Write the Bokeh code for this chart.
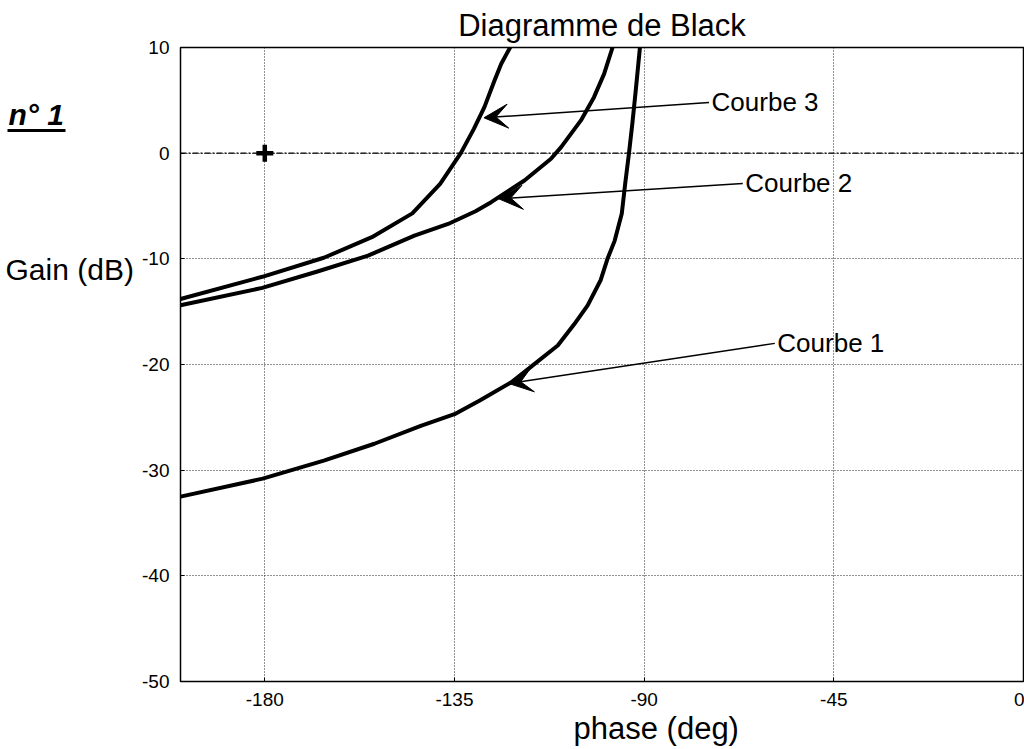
from bokeh.plotting import figure
from bokeh.layouts import row
from bokeh.models import (Range1d, FixedTicker, Label, Arrow, VeeHead, Span, Title,
                          PrintfTickFormatter)
from bokeh.core.properties import value
from bokeh.embed import file_html
from bokeh.resources import INLINE

# ---- data (phase in deg, gain in dB) ----
phase1 = [-200, -180.5, -166, -154, -143, -135, -129, -121.6, -116.8, -110.5,
          -106.6, -103.4, -100.3, -98.7, -97, -95.3, -94.5, -93.6, -92.8, -92, -91]
gain1 = [-32.5, -30.8, -29.1, -27.5, -25.8, -24.7, -23.4, -21.7, -20.2, -18.2,
         -16.2, -14.4, -12.0, -10.0, -8.3, -5.7, -2.9, 0, 2.8, 5.9, 10]

phase2 = [-200, -180.6, -167.5, -155.5, -144.5, -136.5, -130, -126.3, -118.4,
          -112.1, -109.7, -105, -101.9, -99.5, -97.5]
gain2 = [-14.4, -12.75, -11.2, -9.7, -7.8, -6.7, -5.5, -4.64, -2.59,
         -0.53, 0.57, 3.1, 5.3, 7.5, 10]

phase3 = [-200, -180.6, -166, -154.6, -145, -138.4, -133.5, -130.4, -127.9,
          -125.5, -123.9, -121.8]
gain3 = [-13.8, -11.7, -9.9, -7.95, -5.7, -2.9, 0, 2.3, 4.36, 6.88, 8.47, 10]

critical_phase = [-180]
critical_gain = [0]

x_ticks = [-180, -135, -90, -45, 0]
y_ticks = [-50, -40, -30, -20, -10, 0, 10]

curve_names = ["Courbe 1", "Courbe 2", "Courbe 3"]

FONT = "Liberation Sans"
H = 747
LW = 139
TOP = 47
BOTTOM = 681

# ---------------- main chart ----------------
p = figure(width=1024 - LW, height=H, output_backend="svg", toolbar_location=None,
           x_range=Range1d(-200, 0), y_range=Range1d(-50, 10),
           min_border_left=40, min_border_right=1, min_border_top=TOP,
           min_border_bottom=H - BOTTOM)

p.title = Title(text="Diagramme de Black", align="center", text_font=FONT,
                text_font_size="31px", text_font_style="normal",
                text_color="black", standoff=9)
p.add_layout(Title(text="phase (deg)", align="left", offset=393, text_font=FONT,
                   text_font_size="31px", text_font_style="normal",
                   text_color="black", standoff=0), "below")

p.background_fill_color = "white"
p.border_fill_color = "white"
p.outline_line_color = "black"
p.outline_line_width = 1.5

for ax in (p.xaxis, p.yaxis):
    ax.major_label_text_font = FONT
    ax.major_label_text_font_size = "19px"
    ax.major_label_text_color = "black"
    ax.axis_line_color = "black"
    ax.major_tick_line_color = "black"
    ax.major_tick_out = 0
    ax.major_tick_in = 4
    ax.minor_tick_line_color = None
    ax.formatter = PrintfTickFormatter(format="%d")
p.xaxis.ticker = FixedTicker(ticks=x_ticks)
p.yaxis.ticker = FixedTicker(ticks=y_ticks)
p.xaxis.major_label_standoff = 11
p.yaxis.major_label_standoff = 11

for g in (p.xgrid, p.ygrid):
    g.grid_line_color = "#222222"
    g.grid_line_dash = "1 2"
    g.grid_line_width = 1

p.add_layout(Span(location=0, dimension="width", line_color="black",
                  line_dash="6 2 2 2", line_width=1.2))

for ph, gn in ((phase1, gain1), (phase2, gain2), (phase3, gain3)):
    p.line(ph, gn, line_color="black", line_width=4, line_join="round", line_cap="round")

p.scatter(critical_phase, critical_gain, marker="cross", size=17,
          line_width=4.5, line_color="black")

# annotations (arrow from label to curve)
ann = [
    (curve_names[2], -74.6, 4.8, -128.0, 3.35),
    (curve_names[1], -66.6, -2.87, -124.5, -4.32),
    (curve_names[0], -59.0, -18.0, -122.1, -21.8),
]
for name, xs, ys, xe, ye in ann:
    p.add_layout(Arrow(end=VeeHead(size=24, fill_color="black", line_color="black"),
                       x_start=xs, y_start=ys, x_end=xe, y_end=ye,
                       line_color="black", line_width=1.5))
    p.add_layout(Label(x=xs + 0.6, y=ys, text=name, text_font=FONT,
                       text_font_size="26px", text_baseline="middle",
                       text_align="left", text_color="black"))

# ---------------- left margin texts (page-pixel coordinates) ----------------
q = figure(width=LW, height=H, output_backend="svg", toolbar_location=None,
           x_range=Range1d(0, LW), y_range=Range1d(BOTTOM, TOP),
           x_axis_type=None, y_axis_type=None, min_border_left=0,
           min_border_right=0, min_border_top=TOP, min_border_bottom=H - BOTTOM)
q.outline_line_color = None
q.background_fill_color = "white"
q.border_fill_color = "white"
q.text(x=[5], y=[269], text=["Gain (dB)"], text_font=value(FONT),
       text_font_size=value("30px"), text_baseline="middle", text_align="left",
       text_color="black")
q.text(x=[8], y=[114], text=["n° 1"], text_font=value(FONT),
       text_font_size=value("30px"), text_font_style="bold italic",
       text_baseline="middle", text_align="left", text_color="black")
q.segment(x0=[7], y0=[130], x1=[65], y1=[130], line_color="black", line_width=3)

lay = row(q, p)
open("out.html", "w").write(file_html(lay, INLINE))
